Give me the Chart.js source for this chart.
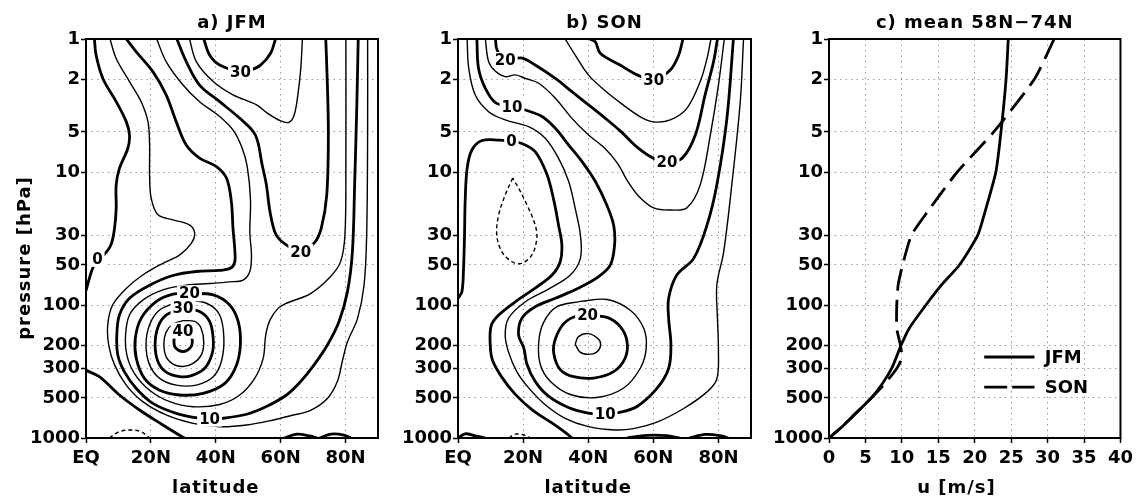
<!DOCTYPE html>
<html>
<head>
<meta charset="utf-8">
<title>Zonal mean zonal wind: JFM, SON and 58N-74N profiles</title>
<script src="https://cdn.jsdelivr.net/npm/chart.js@4.4.0/dist/chart.umd.min.js"></script>
<style>
  html, body { margin: 0; padding: 0; background: #fff; }
  #wrap { position: relative; width: 1138px; height: 501px; overflow: hidden; }
  .panel { position: absolute; top: 0; height: 501px; }
</style>
</head>
<body>
<div id="wrap">
  <div class="panel" style="left:0;width:385px"><canvas id="panelA" width="385" height="501"></canvas></div>
  <div class="panel" style="left:385px;width:375px"><canvas id="panelB" width="375" height="501"></canvas></div>
  <div class="panel" style="left:760px;width:378px"><canvas id="panelC" width="378" height="501"></canvas></div>
</div>
<script>
const FONT = '"DejaVu Sans", sans-serif';

// axis ticks
const pTicks = [1, 2, 5, 10, 30, 50, 100, 200, 300, 500, 1000];
const latTicks = [0, 20, 40, 60, 80];
const latLabels = ['EQ', '20N', '40N', '60N', '80N'];
const uTicks = [0, 5, 10, 15, 20, 25, 30, 35, 40];

// ---- JFM zonal wind contours, points are [latitude, pressure hPa] ----
const jfmNeg5 = [[7.2,1000],[9.8,906],[13.4,870],[17,896],[19.6,1000]];
const jfm0Upper = [[2.6,1],[3.1,1.32],[5.2,1.98],[9.3,2.96],[12.4,4.18],[13.4,5.27],[12.9,6.63],[10.3,9.4],[9.3,12.5],[9.3,18.8],[8.8,26.4],[7.7,35.3],[5.5,42],[3.5,45],[1.8,55],[0.8,66],[0,78]];
const jfm0Lower = [[0,310],[4.1,346],[10.3,475],[16.5,616],[23.7,798],[27.8,920],[30.4,1000]];
const jfm0SfcA = [[61,1000],[65,935],[69,965],[71.3,1000]];
const jfm0SfcB = [[72,1000],[75.5,935],[79.5,950],[81.6,1000]];
const jfm5 = [[7.4,1],[9.3,1.4],[13.4,2.09],[17,2.96],[19.1,4.18],[19.6,6.27],[19.6,10.5],[20.1,15.8],[22.2,21],[26.8,22.9],[31.9,25],[33.5,28.9],[32.5,34.3],[28.9,42],[23.7,48.6],[17.5,59.5],[12.4,75],[8.2,100],[6.7,141],[7,200],[8.8,282],[12.4,400],[17.5,533],[24.7,671],[33,776],[41.2,822],[49.5,798],[57.7,732],[63,680],[69.2,620],[74.4,505],[77.5,375],[79,265],[80.6,189],[83.7,126],[85.7,71],[86.5,30],[86.8,5.27],[86.8,1]];
const jfm10 = [[12.4,1],[15.5,1.25],[20.6,1.76],[24.7,2.63],[27.8,4.18],[30.9,6.27],[35,7.86],[40.2,9.1],[43.3,11.1],[44.8,16.7],[45.3,26.4],[45.9,39.8],[45.8,48],[44.5,53],[41.2,55],[34,56],[26.8,60],[19.6,71],[13.4,89],[10.3,119],[9.5,168],[9.8,238],[11.8,317],[15.5,424],[20.6,549],[27.8,652],[35,711],[38.1,716],[42.2,711],[49.5,663],[55.6,580],[61.8,475],[66.2,375],[70.3,282],[74.4,200],[78,133],[80.6,79],[82.1,40],[82.8,12.5],[83.5,2.96],[83.9,1]];
const jfm15 = [[21.8,1],[24.7,1.48],[29.9,2.22],[35,2.96],[41.2,3.83],[45.5,4.9],[48,6.5],[49.7,9.1],[50.7,16.2],[50.5,28.8],[51,42],[50.5,56],[48.4,65],[44.3,67],[38.1,69],[30.9,71],[23.7,77],[17.5,92],[13.4,119],[12.2,168],[12.6,238],[14.9,326],[19.6,437],[25.8,533],[33,582],[41.2,560],[47.4,475],[52,356],[54.6,252],[55.4,168],[56.7,130],[59.2,106],[61.8,97],[69.2,82],[75.4,61],[78.5,47],[79.8,30],[80.1,9.4],[80.1,1]];
const jfm20Strat = [[28,1],[30.9,1.48],[35,2.22],[41.2,2.96],[47.4,3.95],[52.2,5.27],[54.3,8.86],[55.6,12.5],[56.7,19.8],[58.4,29],[61,34.3],[66.2,39.8],[70.3,34.3],[72.5,26.5],[74.2,14.9],[74.7,5.27],[74.4,2.22],[73.9,1]];
const jfm20Jet = [[31.9,81.7],[39.2,84],[44.3,100],[46.9,133],[47.6,194],[46.4,282],[42.8,388],[36.1,461],[28.9,475],[22.7,437],[18,356],[15.5,252],[15.2,178],[17,126],[21.6,94.4],[26.8,82.8],[31.9,81.7]];
const jfm25Strat = [[31.9,1],[34,1.48],[39.2,2.09],[45.3,2.63],[52.6,3.13],[55.9,3.61],[60,4.13],[62.5,4.23],[64.1,3.78],[65.3,2.63],[66.2,1.66],[66.7,1]];
const jfm25Jet = [[29.9,92],[37.1,97],[41.2,119],[42.5,178],[41.7,267],[39.2,346],[34,400],[27.8,400],[22.7,356],[19.6,282],[18.5,200],[19.6,141],[22.7,109],[29.9,92]];
const jfm30Strat = [[36.3,1],[38.1,1.32],[41.2,1.57],[47.6,1.76],[50.7,1.71],[53.8,1.57],[56.9,1.28],[58.4,1]];
const jfm30Jet = [[29.9,106],[35,112],[38.1,133],[39.2,178],[38.9,231],[36.6,299],[32.5,340],[28.9,346],[24.7,320],[22.2,267],[21.3,200],[22.2,146],[24.7,119],[29.9,106]];
const jfm35Jet = [[29.9,131],[33.5,133],[35.5,150],[36.3,191],[35.5,238],[33,275],[29.9,290],[26.8,278],[24.7,245],[24,195],[24.7,160],[26.8,139],[29.9,131]];
const jfm40Jet = [[29.9,160],[32.1,168],[32.8,187],[32.1,210],[29.9,224],[27.6,210],[27.1,187],[27.6,168],[29.9,160]];
const jfmLabels = [[3.5,45,'0'],[47.6,1.76,'30'],[66.2,39.8,'20'],[31.9,81.7,'20'],[29.9,106,'30'],[29.9,156,'40'],[38.1,716,'10']];

// ---- SON zonal wind contours ----
const sonNeg5 = [[16.8,11.1],[14.5,14.9],[12.5,21],[11.9,29.8],[13.5,39.8],[16.6,47.3],[19.6,48.6],[22.7,42],[24.2,31.6],[23.7,25],[21.2,17.7],[18.6,13.2],[16.8,11.1]];
const sonNeg5Sfc = [[15.6,1000],[17.6,935],[20.7,955],[22.2,1000]];
const son0 = [[0,89],[1.2,79.4],[1.7,53],[2,29.8],[2.2,16.7],[2.8,9.4],[4.3,6.8],[7.4,5.8],[12.5,5.75],[16.4,5.9],[19.6,6.1],[23.7,7.04],[27.3,10.4],[29.4,16.2],[30.9,25.2],[31.9,35.3],[31.4,47.3],[28.9,59.5],[23.7,74.6],[17.6,94.6],[12.5,119],[10.2,143],[9.9,200],[10.6,260],[13.5,350],[17.6,470],[23,620],[29.5,790],[33.5,930],[35,1000]];
const son0SfcA = [[0,1000],[2.2,930],[5.3,965],[8.4,1000]];
const son0SfcB = [[52,1000],[58,955],[64,960],[68,1000]];
const son0SfcC = [[71,1000],[76,940],[81,965],[83,1000]];
const son5 = [[2.8,1],[3.3,1.66],[5.3,2.64],[9.4,3.52],[14.5,4.06],[21.7,4.56],[26.8,5.58],[30.9,7.9],[34,11.8],[36,18.8],[37.6,29.8],[37.6,44.6],[34.5,59.5],[27.8,76],[20.7,94.6],[15.5,126],[14.5,168],[15.5,225],[18.1,318],[21.7,420],[26.8,562],[32.9,711],[40.1,821],[48.3,870],[53.9,850],[61.1,760],[69.3,600],[76.5,450],[79.5,360],[80,225],[79.7,126],[79.5,71],[81.6,40],[84.1,12.5],[86.7,2.96],[87.7,1]];
const son10 = [[5.8,1],[6.3,1.66],[8.4,2.35],[11.5,3.01],[16.6,3.23],[20.7,3.42],[25.8,3.83],[29.9,4.69],[34,6.27],[38.1,8.36],[42.2,11.8],[45.7,17.7],[47.8,25],[48.1,35.3],[46.8,50],[43.2,61.3],[37.1,74.6],[29.9,89],[23.7,103],[19.6,126],[18.6,168],[20.2,210],[21.2,280],[23.7,375],[27.8,485],[33.9,590],[40,650],[45.2,663],[50,640],[55,580],[61.1,424],[64.7,300],[65.4,200],[64.7,126],[64.7,89],[67.2,59.5],[72.4,44.6],[76.5,25],[79.5,12.5],[82.6,3.95],[84.6,1]];
const son15Strat = [[8.4,1],[9.4,1.48],[11.5,1.75],[14.5,1.92],[17.6,1.86],[20.7,1.98],[24.8,2.15],[29.9,2.79],[35,3.95],[40.1,5.27],[45,6.6],[49,8.6],[52,11.6],[55.5,15.2],[60.1,18.6],[65.2,19.3],[70.3,18.6],[74.4,12.5],[77.5,5.27],[80,2.22],[81.8,1]];
const son15Jet = [[37.6,94],[45.8,91],[53,110],[57.1,151],[57.8,213],[56,299],[50.9,421],[42.7,496],[34.5,471],[28.4,376],[25.3,281],[24.8,190],[26.3,135],[30.4,103],[37.6,94]];
const son20Strat = [[11.5,1],[12,1.21],[14.5,1.44],[19.6,1.39],[23.7,1.57],[29.9,1.98],[35,2.49],[40.1,3.13],[45,3.9],[50,4.95],[55,6.5],[60.1,7.9],[64.2,8.36],[68.8,7.9],[72.9,5.27],[75.9,2.63],[78.5,1.48],[79.7,1]];
const son20Jet = [[39.8,120],[45.8,124],[49.9,146],[51.9,187],[51.4,249],[47.8,317],[41.7,354],[35.5,346],[31.4,306],[29.4,230],[29.9,180],[32.5,138],[36,122],[39.8,120]];
const son25Strat = [[32.9,1],[36,1.32],[40.1,1.87],[45.2,2.45],[50.5,3.1],[56,3.85],[60.1,4.2],[65.2,4.06],[70.3,3.32],[74.4,2.09],[76.5,1.4],[77.7,1]];
const son25Jet = [[36,197],[37,173],[40,164],[43.1,180],[43.8,201],[42.5,227],[40,235],[37.5,226],[36,197]];
const son30Strat = [[40.5,1],[42.2,1.05],[43.7,1.28],[49.8,1.57],[55,1.86],[60.1,2.03],[65.2,1.71],[67.8,1.32],[69.1,1]];
const sonLabels = [[14.5,1.44,'20'],[16.6,3.23,'10'],[16.4,5.9,'0'],[60.1,2.03,'30'],[64.2,8.36,'20'],[39.8,120,'20'],[45.2,663,'10']];

// ---- 58N-74N mean profiles ----
const pLevels = [1, 2, 5, 10, 20, 30, 50, 70, 100, 150, 200, 250, 300, 400, 500, 700, 850, 1000];
const uJFM = [24.6, 24.3, 23.6, 22.9, 21.4, 20.4, 17.9, 15.5, 13.3, 11.0, 9.9, 9.2, 8.6, 7.2, 5.8, 3.1, 1.5, 0];
const uSON = [30.9, 28.2, 22.6, 17.6, 13.5, 11.3, 10.1, 9.5, 9.3, 9.3, 9.8, 10.0, 9.3, 7.5, 5.8, 3.1, 1.5, 0];

const jfmContours = [
  [-5, jfmNeg5], [0, jfm0Upper], [0, jfm0Lower], [0, jfm0SfcA], [0, jfm0SfcB],
  [5, jfm5], [10, jfm10], [15, jfm15], [20, jfm20Strat], [20, jfm20Jet],
  [25, jfm25Strat], [25, jfm25Jet], [30, jfm30Strat], [30, jfm30Jet], [35, jfm35Jet], [40, jfm40Jet]
];
const sonContours = [
  [-5, sonNeg5], [-5, sonNeg5Sfc], [0, son0], [0, son0SfcA], [0, son0SfcB], [0, son0SfcC],
  [5, son5], [10, son10], [15, son15Strat], [15, son15Jet], [20, son20Strat], [20, son20Jet],
  [25, son25Strat], [25, son25Jet], [30, son30Strat]
];

// every 10 m/s drawn heavy, negative values dashed
function contourDatasets(list) {
  return list.map(([level, pts]) => ({
    data: pts.map(([x, y]) => ({ x, y })),
    showLine: true,
    pointRadius: 0,
    borderColor: '#000',
    borderWidth: level % 10 === 0 ? 2.8 : 1.4,
    borderDash: level < 0 ? [4, 3] : [],
    tension: 0.35
  }));
}

const tickFont = { family: FONT, size: 18, weight: 'bold' };
const gridStyle = { color: '#9a9a9a', lineWidth: 1, tickColor: '#000', tickLength: 5, tickWidth: 1.5, tickBorderDash: [] };

function pressureAxis(width) {
  return {
    type: 'logarithmic', reverse: true, min: 1, max: 1000,
    afterBuildTicks: s => { s.ticks = pTicks.map(v => ({ value: v })); },
    afterFit: s => { s.width = width; },
    ticks: { callback: v => String(v), color: '#000', font: tickFont, padding: 1, autoSkip: false },
    grid: gridStyle,
    border: { display: false, dash: [1.5, 4] }
  };
}

function horizAxis(min, max, values, labels) {
  return {
    type: 'linear', min, max,
    afterBuildTicks: s => { s.ticks = values.map(v => ({ value: v })); },
    afterFit: s => { s.height = 63; },
    ticks: { callback: v => labels[values.indexOf(v)], color: '#000', font: tickFont, padding: 5, autoSkip: false, maxRotation: 0 },
    grid: gridStyle,
    border: { display: false, dash: [1.5, 4] }
  };
}

function decor(cfg) {
  return {
    id: 'decor',
    afterDatasetsDraw(chart) {
      const { ctx, scales: { x, y } } = chart;
      ctx.save();
      ctx.font = 'bold 15px ' + FONT;
      ctx.textAlign = 'center';
      ctx.textBaseline = 'middle';
      (cfg.labels || []).forEach(([lx, ly, t]) => {
        const px = x.getPixelForValue(lx), py = y.getPixelForValue(ly);
        const w = ctx.measureText(t).width + 4;
        ctx.fillStyle = '#fff';
        ctx.fillRect(px - w / 2, py - 8, w, 16);
        ctx.fillStyle = '#000';
        ctx.fillText(t, px, py + 1);
      });
      ctx.restore();
    },
    afterDraw(chart) {
      const { ctx, chartArea: a, scales: { x, y } } = chart;
      ctx.save();
      ctx.strokeStyle = '#000';
      ctx.lineWidth = 2;
      ctx.strokeRect(a.left, a.top, a.right - a.left, a.bottom - a.top);

      ctx.fillStyle = '#000';
      ctx.font = 'bold 18px ' + FONT;
      ctx.letterSpacing = '1px';
      ctx.textAlign = 'center';
      ctx.textBaseline = 'middle';
      ctx.fillText(cfg.title, (a.left + a.right) / 2, 23);
      ctx.fillText(cfg.xTitle, x.getPixelForValue(cfg.xTitleAt), 488);
      if (cfg.yTitle) {
        ctx.save();
        ctx.translate(25, 258);
        ctx.rotate(-Math.PI / 2);
        ctx.fillText(cfg.yTitle, 0, 0);
        ctx.restore();
      }
      if (cfg.legend) {
        ctx.textAlign = 'left';
        ctx.letterSpacing = '0px';
        cfg.legend.forEach((item, i) => {
          const ds = chart.data.datasets[i];
          const py = y.getPixelForValue(item.p);
          ctx.beginPath();
          ctx.lineWidth = ds.borderWidth;
          ctx.setLineDash(item.dash);
          ctx.moveTo(x.getPixelForValue(21.3), py);
          ctx.lineTo(x.getPixelForValue(28.2), py);
          ctx.stroke();
          ctx.setLineDash([]);
          ctx.fillText(ds.label, x.getPixelForValue(29.6), py + 1);
        });
      }
      ctx.restore();
    }
  };
}

const baseOptions = (padRight, yWidth, xAxis) => ({
  responsive: false,
  animation: false,
  events: [],
  layout: { autoPadding: false, padding: { top: 39, right: padRight, left: 0, bottom: 0 } },
  plugins: { legend: { display: false }, tooltip: { enabled: false } },
  scales: { x: xAxis, y: pressureAxis(yWidth) }
});

new Chart(document.getElementById('panelA'), {
  type: 'scatter',
  data: { datasets: contourDatasets(jfmContours) },
  options: baseOptions(7, 86, horizAxis(0, 90, latTicks, latLabels)),
  plugins: [decor({ title: 'a) JFM', xTitle: 'latitude', xTitleAt: 40, yTitle: 'pressure [hPa]', labels: jfmLabels })]
});

new Chart(document.getElementById('panelB'), {
  type: 'scatter',
  data: { datasets: contourDatasets(sonContours) },
  options: baseOptions(9, 73, horizAxis(0, 90, latTicks, latLabels)),
  plugins: [decor({ title: 'b) SON', xTitle: 'latitude', xTitleAt: 40, labels: sonLabels })]
});

new Chart(document.getElementById('panelC'), {
  type: 'scatter',
  data: {
    datasets: [
      { label: 'JFM', data: pLevels.map((p, i) => ({ x: uJFM[i], y: p })), showLine: true, pointRadius: 0,
        borderColor: '#000', borderWidth: 2.8, tension: 0.2 },
      { label: 'SON', data: pLevels.map((p, i) => ({ x: uSON[i], y: p })), showLine: true, pointRadius: 0,
        borderColor: '#000', borderWidth: 2.8, borderDash: [22, 9], tension: 0.2 }
    ]
  },
  options: baseOptions(16, 69, horizAxis(0, 40, uTicks, uTicks.map(String))),
  plugins: [decor({
    title: 'c) mean 58N\u221274N', xTitle: 'u [m/s]', xTitleAt: 17.5,
    legend: [{ p: 246, dash: [] }, { p: 414, dash: [23, 5] }]
  })]
});
</script>
</body>
</html>
